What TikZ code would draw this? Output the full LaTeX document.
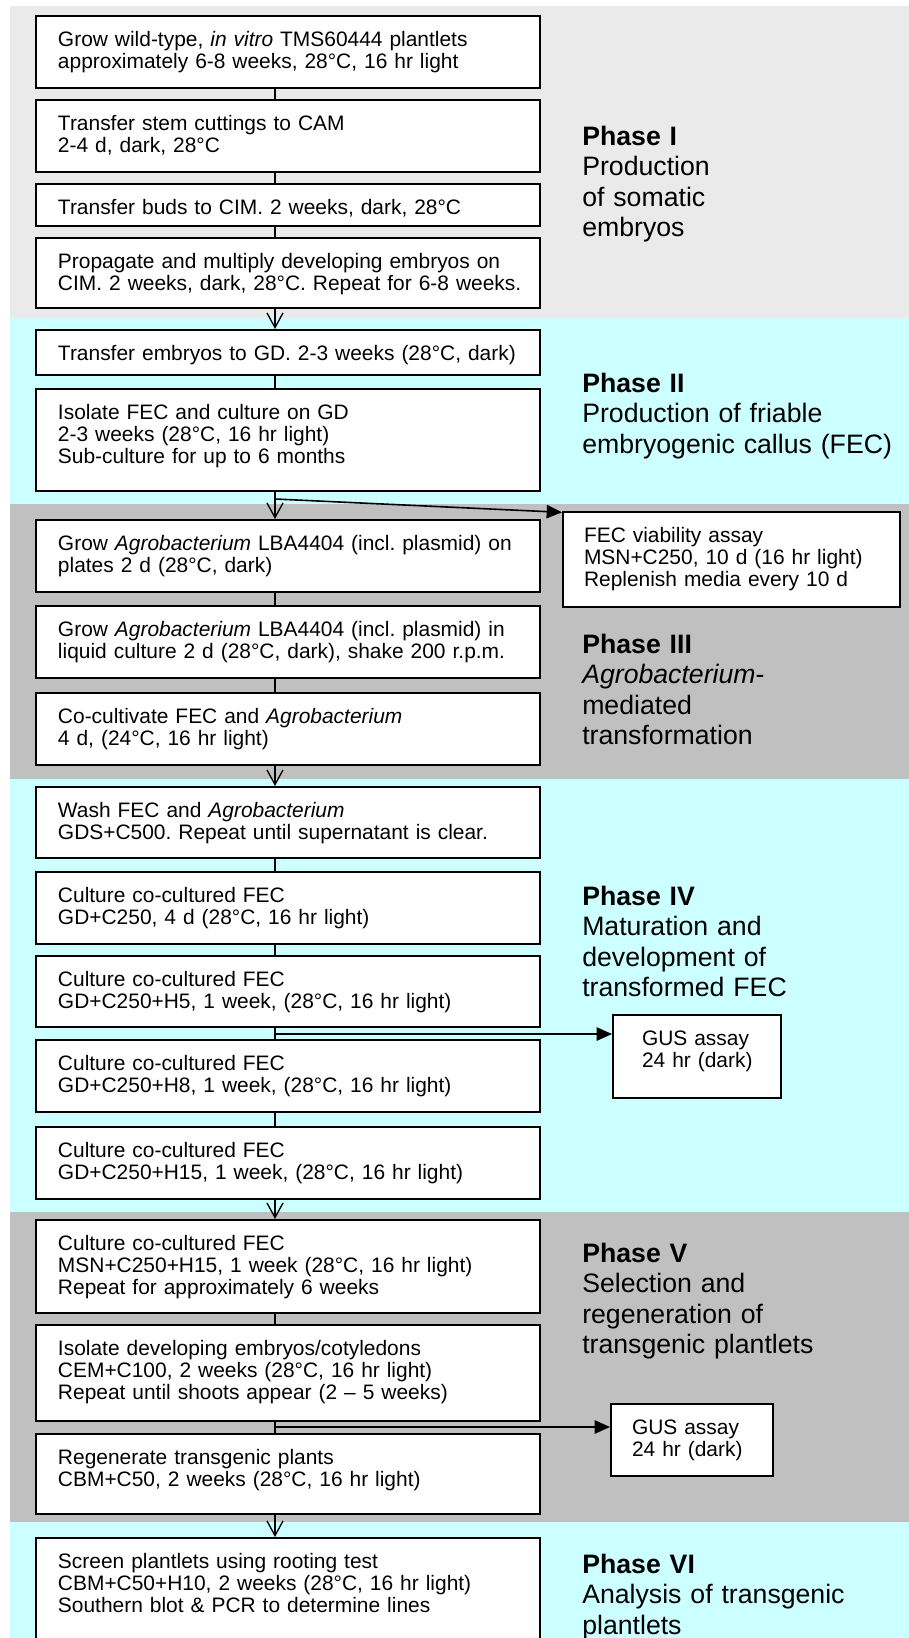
\documentclass[tikz,border=0pt]{standalone}
\usepackage{fontspec}
\setmainfont{Liberation Sans}
\usetikzlibrary{arrows.meta}
\frenchspacing
\definecolor{bandlight}{RGB}{234,234,234}
\definecolor{bandcyan}{RGB}{204,255,255}
\definecolor{banddark}{RGB}{192,192,192}
\newlength\unitpx
\setlength\unitpx{0.75pt}
\newcommand{\boxfont}{\fontsize{15.7pt}{16.5pt}\selectfont\lineskiplimit=-20pt}
\newcommand{\phasefont}{\fontsize{20pt}{22.9pt}\selectfont\lineskiplimit=-20pt}
\tikzset{
  stepbox/.style={draw=black, fill=white, line width=1.5pt, anchor=north west,
    inner xsep=0pt, inner ysep=0pt, font=\boxfont, text height=22.5pt},
  phaselabel/.style={anchor=base west, inner sep=0pt, align=left, font=\phasefont,
    text width=250pt},
  conn/.style={draw=black, line width=1pt},
  phasearrow/.style={-{Straight Barb[length=11pt, width=12pt, line width=1pt]}},
  sidetip/.style={-{Triangle[length=11.5pt, width=10pt]}, line width=1.2pt},
}
\newcommand{\stepnode}[7]{%
  \pgfmathsetmacro{\sdepth}{(#5-30)*0.75}%
  \pgfmathsetmacro{\swidth}{#4*0.75}%
  \node[stepbox, text width=\swidth pt, text depth=\sdepth pt] (#1) at (#2,#3)
    {\leftskip=#6\unitpx\rightskip=0pt plus 1fil\relax #7\par};%
}
\begin{document}
\begin{tikzpicture}[x=0.75pt, y=-0.75pt]
\clip (0,0) rectangle (909,1638);
\fill[white] (0,0) rectangle (909,1638);
% phase bands
\fill[bandlight] (10,6) rectangle (909,318);
\fill[bandcyan] (10,318) rectangle (909,504);
\fill[banddark] (10,504) rectangle (909,779);
\fill[bandcyan] (10,779) rectangle (909,1212);
\fill[banddark] (10,1212) rectangle (909,1522);
\fill[bandcyan] (10,1522) rectangle (909,1650);
% main column
\stepnode{b1}{35}{15}{504}{72}{22}{Grow wild-type, \textit{in vitro} TMS60444 plantlets\\approximately 6-8 weeks, 28°C, 16 hr light}
\stepnode{b2}{35}{99}{504}{72}{22}{Transfer stem cuttings to CAM\\2-4 d, dark, 28°C}
\stepnode{b3}{35}{183}{504}{42}{22}{Transfer buds to CIM. 2 weeks, dark, 28°C}
\stepnode{b4}{35}{237}{504}{70}{22}{Propagate and multiply developing embryos on\\CIM. 2 weeks, dark, 28°C. Repeat for 6-8 weeks.}
\stepnode{b5}{35}{329}{504}{45}{22}{Transfer embryos to GD. 2-3 weeks (28°C, dark)}
\stepnode{b6}{35}{388}{504}{102}{22}{Isolate FEC and culture on GD\\2-3 weeks (28°C, 16 hr light)\\Sub-culture for up to 6 months}
\stepnode{b7}{35}{519}{504}{72}{22}{Grow \textit{Agrobacterium} LBA4404 (incl. plasmid) on\\plates 2 d (28°C, dark)}
\stepnode{b8}{35}{605}{504}{72}{22}{Grow \textit{Agrobacterium} LBA4404 (incl. plasmid) in\\liquid culture 2 d (28°C, dark), shake 200 r.p.m.}
\stepnode{b9}{35}{692}{504}{72}{22}{Co-cultivate FEC and \textit{Agrobacterium}\\4 d, (24°C, 16 hr light)}
\stepnode{b10}{35}{786}{504}{71}{22}{Wash FEC and \textit{Agrobacterium}\\GDS+C500. Repeat until supernatant is clear.}
\stepnode{b11}{35}{871}{504}{72}{22}{Culture co-cultured FEC\\GD+C250, 4 d (28°C, 16 hr light)}
\stepnode{b12}{35}{955}{504}{71}{22}{Culture co-cultured FEC\\GD+C250+H5, 1 week, (28°C, 16 hr light)}
\stepnode{b13}{35}{1039}{504}{72}{22}{Culture co-cultured FEC\\GD+C250+H8, 1 week, (28°C, 16 hr light)}
\stepnode{b14}{35}{1126}{504}{72}{22}{Culture co-cultured FEC\\GD+C250+H15, 1 week, (28°C, 16 hr light)}
\stepnode{b15}{35}{1219}{504}{93}{22}{Culture co-cultured FEC\\MSN+C250+H15, 1 week (28°C, 16 hr light)\\Repeat for approximately 6 weeks}
\stepnode{b16}{35}{1324}{504}{96}{22}{Isolate developing embryos/cotyledons\\CEM+C100, 2 weeks (28°C, 16 hr light)\\Repeat until shoots appear (2 – 5 weeks)}
\stepnode{b17}{35}{1433}{504}{80}{22}{Regenerate transgenic plants\\CBM+C50, 2 weeks (28°C, 16 hr light)}
\stepnode{b18}{35}{1537}{504}{112}{22}{Screen plantlets using rooting test\\CBM+C50+H10, 2 weeks (28°C, 16 hr light)\\Southern blot \& PCR to determine lines}
% side boxes
\stepnode{fec}{562}{511}{337}{95}{21}{FEC viability assay\\MSN+C250, 10 d (16 hr light)\\Replenish media every 10 d}
\stepnode{gus1}{612}{1014}{168}{83}{29}{GUS assay\\24 hr (dark)}
\stepnode{gus2}{610}{1403}{162}{72}{21}{GUS assay\\24 hr (dark)}
% phase labels
\node[phaselabel] (p1) at (582,145) {\textbf{Phase I}\\Production\\of somatic\\embryos};
\node[phaselabel] (p2) at (582,392) {\textbf{Phase II}\\Production of friable\\embryogenic callus (FEC)};
\node[phaselabel] (p3) at (582,653) {\textbf{Phase III}\\\textit{Agrobacterium}-\\mediated\\transformation};
\node[phaselabel] (p4) at (582,905) {\textbf{Phase IV}\\Maturation and\\development of\\transformed FEC};
\node[phaselabel] (p5) at (582,1262) {\textbf{Phase V}\\Selection and\\regeneration of\\transgenic plantlets};
\node[phaselabel] (p6) at (582,1573) {\textbf{Phase VI}\\Analysis of transgenic\\plantlets};
% connectors
\coordinate (cx) at (275,0);
\draw[conn] (b1.south -| cx) -- (b2.north -| cx);
\draw[conn] (b2.south -| cx) -- (b3.north -| cx);
\draw[conn] (b3.south -| cx) -- (b4.north -| cx);
\draw[conn, phasearrow] (b4.south -| cx) -- (b5.north -| cx);
\draw[conn] (b5.south -| cx) -- (b6.north -| cx);
\draw[conn, phasearrow] (b6.south -| cx) -- (b7.north -| cx);
\draw[conn] (b7.south -| cx) -- (b8.north -| cx);
\draw[conn] (b8.south -| cx) -- (b9.north -| cx);
\draw[conn, phasearrow] (b9.south -| cx) -- (b10.north -| cx);
\draw[conn] (b10.south -| cx) -- (b11.north -| cx);
\draw[conn] (b11.south -| cx) -- (b12.north -| cx);
\draw[conn] (b12.south -| cx) -- (b13.north -| cx);
\draw[conn] (b13.south -| cx) -- (b14.north -| cx);
\draw[conn, phasearrow] (b14.south -| cx) -- (b15.north -| cx);
\draw[conn] (b15.south -| cx) -- (b16.north -| cx);
\draw[conn] (b16.south -| cx) -- (b17.north -| cx);
\draw[conn, phasearrow] (b17.south -| cx) -- (b18.north -| cx);
% side arrows
\coordinate (j1) at (275,499);
\coordinate (j2) at (275,1034);
\coordinate (j3) at (275,1427);
\draw[conn, sidetip] (j1) -- ([yshift=-1pt]fec.north west);
\draw[conn, sidetip] (j2) -- (j2 -| gus1.west);
\draw[conn, sidetip] (j3) -- (j3 -| gus2.west);
\end{tikzpicture}
\end{document}
